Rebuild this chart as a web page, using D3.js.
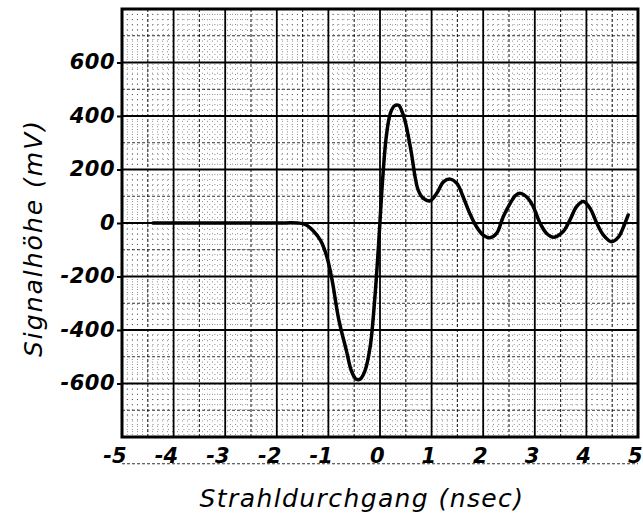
<!DOCTYPE html>
<html>
<head>
<meta charset="utf-8">
<script src="https://cdn.jsdelivr.net/npm/d3@7"></script>
<style>
  html, body { margin: 0; padding: 0; background: #fff; }
  svg { display: block; }
  text { font-family: "DejaVu Sans", sans-serif; fill: #000; }
</style>
</head>
<body>
<svg id="chart" width="643" height="513"></svg>
<script>
// ---- data ----
const timeNs = [-4.4, -3.0, -2.0, -1.6, -1.45, -1.3, -1.15, -1.03, -0.93, -0.8, -0.65, -0.55, -0.46, -0.38, -0.29, -0.19, -0.1, -0.03,
  0.05, 0.12, 0.2, 0.28, 0.36, 0.44, 0.5, 0.55, 0.61, 0.68, 0.74, 0.84, 0.97, 1.1, 1.23, 1.36, 1.49, 1.61, 1.74, 1.87, 2.0, 2.13,
  2.26, 2.39, 2.52, 2.62, 2.71, 2.87, 2.97, 3.1, 3.23, 3.37, 3.55, 3.68, 3.81, 3.94, 4.07, 4.2, 4.33, 4.49, 4.62, 4.72, 4.81];
const signalMv = [0, 0, 0, 0, -5, -28, -66, -126, -212, -360, -478, -555, -584, -583, -552, -462, -280, -88,
  160, 320, 410, 438, 440, 410, 370, 323, 260, 173, 123, 92, 83, 111, 154, 164, 148, 98, 36, -14, -45, -55,
  -39, 24, 72, 102, 111, 92, 61, 0, -39, -53, -32, 11, 61, 80, 55, 0, -45, -70, -53, -14, 30];
const xTickValues = [-5, -4, -3, -2, -1, 0, 1, 2, 3, 4, 5];
const yTickValues = [-600, -400, -200, 0, 200, 400, 600];
const xTitle = "Strahldurchgang (nsec)";
const yTitle = "Signalhöhe (mV)";

const points = timeNs.map((t, i) => ({ t, v: signalMv[i] }));

// ---- layout ----
const svg = d3.select("#chart");
const L = 122, R = 638, T = 9, B = 437;
const x = d3.scaleLinear().domain([-5, 5]).range([L, R]);
const y = d3.scaleLinear().domain([-800, 800]).range([B, T]);

const grid = svg.append("g");
// minor dotted grid
const minorX = d3.range(-50, 51).map(d => d / 10).filter(d => Math.abs(d * 2 - Math.round(d * 2)) > 1e-6);
const minorY = d3.range(-40, 41).map(d => d * 20).filter(d => d % 100 !== 0);
grid.selectAll(".mx").data(minorX).join("line")
  .attr("x1", d => x(d)).attr("x2", d => x(d)).attr("y1", T).attr("y2", B)
  .attr("stroke", "#000").attr("stroke-width", 1).attr("stroke-dasharray", "1,4").attr("opacity", 0.45);
grid.selectAll(".my").data(minorY).join("line")
  .attr("y1", d => y(d)).attr("y2", d => y(d)).attr("x1", L).attr("x2", R)
  .attr("stroke", "#000").attr("stroke-width", 1).attr("stroke-dasharray", "1,4").attr("opacity", 0.45);
// mid dashed grid
const midX = d3.range(-5, 5).map(d => d + 0.5);
const midY = d3.range(-8, 8).map(d => d * 200 + 100);
grid.selectAll(".hx").data(midX).join("line")
  .attr("x1", d => x(d)).attr("x2", d => x(d)).attr("y1", T).attr("y2", B)
  .attr("stroke", "#000").attr("stroke-width", 1.2).attr("stroke-dasharray", "3,2").attr("opacity", 0.8);
grid.selectAll(".hy").data(midY).join("line")
  .attr("y1", d => y(d)).attr("y2", d => y(d)).attr("x1", L).attr("x2", R)
  .attr("stroke", "#000").attr("stroke-width", 1.2).attr("stroke-dasharray", "3,2").attr("opacity", 0.8);
// major solid grid
const majX = d3.range(-4, 5);
const majY = d3.range(-600, 601, 200);
grid.selectAll(".jx").data(majX).join("line")
  .attr("x1", d => x(d)).attr("x2", d => x(d)).attr("y1", T).attr("y2", B)
  .attr("stroke", "#000").attr("stroke-width", 1.8);
grid.selectAll(".jy").data(majY).join("line")
  .attr("y1", d => y(d)).attr("y2", d => y(d)).attr("x1", L).attr("x2", R)
  .attr("stroke", "#000").attr("stroke-width", 1.8);

// frame
svg.append("rect").attr("x", L).attr("y", T).attr("width", R - L).attr("height", B - T)
  .attr("fill", "none").attr("stroke", "#000").attr("stroke-width", 3);

// axes
const yAxis = d3.axisLeft(y).tickValues(yTickValues).tickSize(4).tickPadding(2).tickFormat(d => String(d));
const gy = svg.append("g").attr("transform", `translate(${L - 1},0)`).call(yAxis);
gy.select(".domain").remove();
gy.selectAll(".tick line").attr("stroke", "#000").attr("stroke-width", 2);
gy.selectAll(".tick text").attr("font-size", 21).attr("font-style", "italic").attr("font-weight", "bold")
  .attr("letter-spacing", 0.5).attr("fill", "#000").attr("dy", "0.3em");

const xAxis = d3.axisBottom(x).tickValues(xTickValues).tickSize(0).tickPadding(0).tickFormat(d => String(d));
const gx = svg.append("g").attr("transform", `translate(0,${B})`).call(xAxis);
gx.select(".domain").remove();
gx.selectAll(".tick text").attr("font-size", 21).attr("font-style", "italic").attr("font-weight", "bold")
  .attr("fill", "#000").attr("text-anchor", "end").attr("dx", 0).attr("dy", 0)
  .attr("x", 4).attr("y", 26);

// titles
svg.append("text").attr("x", 362).attr("y", 507).attr("text-anchor", "middle")
  .attr("font-size", 25).attr("font-style", "italic").attr("letter-spacing", 1.4).text(xTitle);
svg.append("text").attr("transform", "translate(42,238) rotate(-90)").attr("text-anchor", "middle")
  .attr("font-size", 25).attr("font-style", "italic").attr("letter-spacing", 2).text(yTitle);

// curve
const line = d3.line().x(d => x(d.t)).y(d => y(d.v)).curve(d3.curveCatmullRom.alpha(0.5));
svg.append("path").datum(points).attr("d", line)
  .attr("fill", "none").attr("stroke", "#000").attr("stroke-width", 3.5)
  .attr("stroke-linejoin", "round").attr("stroke-linecap", "round");
</script>
</body>
</html>
